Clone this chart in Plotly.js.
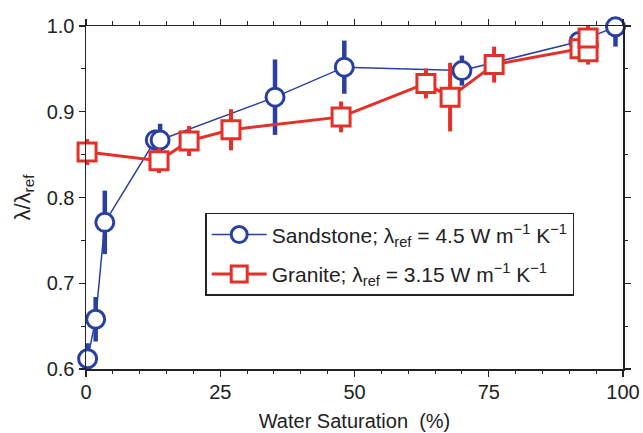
<!DOCTYPE html>
<html>
<head>
<meta charset="utf-8">
<script src="https://cdn.plot.ly/plotly-3.0.1.min.js"></script>
<style>html,body{margin:0;padding:0;background:#fff;}#chart{width:643px;height:433px;}</style>
</head>
<body>
<div id="chart"></div>
<script>
// Sandstone (blue circles)
const sandX   = [0.3, 1.8, 3.5, 12.9, 13.8, 35.2, 48.1, 70.0, 91.8, 98.6];
const sandY   = [0.612, 0.658, 0.771, 0.867, 0.867, 0.917, 0.952, 0.948, 0.982, 0.999];
const sandErr = [0.018, 0.026, 0.037, 0.012, 0.019, 0.044, 0.031, 0.0175, 0.01, 0.023];
// Granite (red squares)
const granX   = [0.2, 13.6, 19.2, 27.0, 47.5, 63.3, 67.8, 76.0, 92.0, 93.5, 93.5];
const granY   = [0.853, 0.843, 0.866, 0.879, 0.894, 0.933, 0.917, 0.955, 0.9735, 0.970, 0.986];
const granErr = [0.015, 0.0145, 0.0175, 0.024, 0.018, 0.0175, 0.04, 0.021, 0.012, 0.015, 0.029];

const xTicks = [0, 25, 50, 75, 100];
const yTicks = [0.6, 0.7, 0.8, 0.9, 1.0];

const blue = 'rgb(42,64,160)';
const red = 'rgb(228,48,40)';
const font = 'Liberation Sans, Arial, sans-serif';
const ink = '#222';

const traces = [
  {
    x: sandX, y: sandY, type: 'scatter', mode: 'lines+markers',
    name: 'Sandstone; λ<sub>ref</sub> = 4.5 W m<sup>−1</sup> K<sup>−1</sup>',
    legendgroup: 'sand',
    line: {color: blue, width: 1.5},
    marker: {symbol: 'circle', size: 18, color: 'white', line: {color: blue, width: 3}},
    error_y: {type: 'data', array: sandErr, visible: true, color: blue, thickness: 4.5, width: 0},
    cliponaxis: false
  },
  {
    x: granX, y: granY, type: 'scatter', mode: 'lines+markers',
    name: 'Granite; λ<sub>ref</sub> = 3.15 W m<sup>−1</sup> K<sup>−1</sup>',
    legendgroup: 'gran',
    line: {color: red, width: 3},
    marker: {symbol: 'square', size: 18, color: 'white', line: {color: red, width: 3}},
    error_y: {type: 'data', array: granErr, visible: true, color: red, thickness: 4, width: 0},
    cliponaxis: false
  }
];

const layout = {
  width: 643, height: 433,
  margin: {l: 85.5, r: 20, t: 25.5, b: 63.7},
  paper_bgcolor: 'white', plot_bgcolor: 'white',
  font: {family: font, size: 20, color: ink},
  showlegend: true,
  legend: {
    x: 0.222, y: 0.455, xanchor: 'left', yanchor: 'top',
    bordercolor: ink, borderwidth: 1.5, bgcolor: 'white',
    font: {family: font, size: 21, color: ink},
    tracegroupgap: 9, itemwidth: 55, traceorder: 'grouped'
  },
  xaxis: {
    range: [0, 100], tickvals: xTicks, ticktext: xTicks.map(String),
    ticks: 'outside', ticklen: 6, tickwidth: 1.3, tickcolor: ink,
    showline: true, linecolor: ink, linewidth: 1.5, mirror: 'allticks',
    showgrid: false, zeroline: false,
    minor: {dtick: 5, ticks: 'outside', ticklen: 3.5, tickwidth: 1, tickcolor: ink, showgrid: false},
    title: {text: 'Water Saturation \u00a0(%)', font: {family: font, size: 20, color: ink}, standoff: 12},
    tickfont: {family: font, size: 20, color: ink},
    ticklabelstandoff: -2
  },
  yaxis: {
    range: [0.6, 1.0], tickvals: yTicks, tickformat: '.1f',
    ticks: 'outside', ticklen: 6, tickwidth: 1.3, tickcolor: ink,
    showline: true, linecolor: ink, linewidth: 1.5, mirror: 'allticks',
    showgrid: false, zeroline: false,
    minor: {dtick: 0.05, ticks: 'outside', ticklen: 3.5, tickwidth: 1, tickcolor: ink, showgrid: false},
    title: {text: 'λ/λ<sub>ref</sub>', font: {family: font, size: 22, color: ink}, standoff: 10},
    tickfont: {family: font, size: 20, color: ink}
  }
};

Plotly.newPlot('chart', traces, layout, {staticPlot: true, displayModeBar: false});
</script>
</body>
</html>
